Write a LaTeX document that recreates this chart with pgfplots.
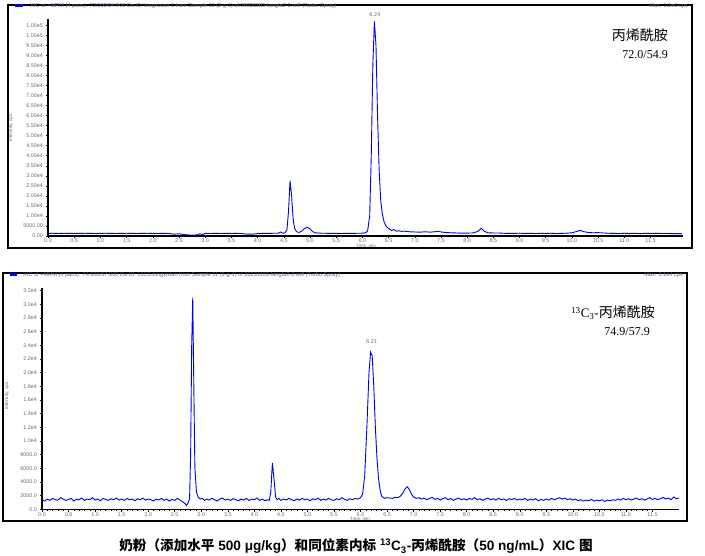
\documentclass[border=0pt]{standalone}
\usepackage{pgfplots}
\pgfplotsset{compat=1.18}
\usepackage{fontspec}
\setmainfont{Liberation Sans}
\newfontfamily\cjk{Noto Sans CJK SC}
\newfontfamily\tnr{Liberation Serif}
\definecolor{tickgray}{RGB}{105,105,125}
\definecolor{hdr}{RGB}{95,95,140}
\definecolor{trace}{RGB}{0,0,240}
\pgfplotsset{
  chrom/.style={
    scale only axis,
    axis x line*=bottom, axis y line*=left,
    axis line style={-, line width=1.1pt, black},
    xmin=0,
    scaled y ticks=false, scaled x ticks=false,
    tick align=outside,
    major tick length=2.5pt, minor tick length=1.5pt,
    every tick/.style={black, line width=0.5pt},
    tick label style={font=\fontsize{5.4}{6}\selectfont, text=tickgray},
    xtick={0,0.5,...,11.5},
    xticklabels={0.0,0.5,1.0,1.5,2.0,2.5,3.0,3.5,4.0,4.5,5.0,5.5,6.0,6.5,7.0,7.5,8.0,8.5,9.0,9.5,10.0,10.5,11.0,11.5},
    minor x tick num=4,
    xticklabel style={inner sep=0pt, yshift=-0.3pt},
    yticklabel style={xshift=1pt},
    clip=false,
  }
}
\begin{document}
\begin{tikzpicture}
\path (0pt,0pt) rectangle (705pt,556pt);
% frames
\draw[line width=1.1pt] (8pt,551pt) rectangle (692pt,308pt);
\draw[line width=1.1pt] (3pt,283pt) rectangle (687pt,35pt);
\fill[blue] (15pt,549pt) rectangle (23pt,552pt);
\fill[blue] (10pt,280pt) rectangle (17pt,283pt);
% headers
\node[anchor=west, font=\fontsize{5.6}{6}\selectfont, text=hdr, inner sep=0] at (30pt,550pt) {XIC of +MRM (4 pairs): 72.000/54.900 Da ID: bingxixian 1 from Sample 11 (3-g-1) of 20231103-fangfa2-2.wiff (Turbo Spray)};
\node[anchor=east, font=\fontsize{5.6}{6}\selectfont, text=hdr, inner sep=0] at (688pt,550pt) {Max. 1.1e5 cps};
\node[anchor=west, font=\fontsize{5.6}{6}\selectfont, text=hdr, inner sep=0] at (23pt,281pt) {XIC of +MRM (4 pairs): 74.900/57.900 Da ID: 13C3-bingxixian from Sample 11 (3-g-1) of 20231103-fangfa2-2.wiff (Turbo Spray)};
\node[anchor=east, font=\fontsize{5.6}{6}\selectfont, text=hdr, inner sep=0] at (683pt,281pt) {Max. 3.1e4 cps};

% ---------- top chart ----------
\begin{axis}[chrom, at={(48pt,320pt)}, anchor=south west,
  width=635pt, height=216.7pt, xmax=12.12, ymin=0, ymax=108000,
  ytick={0,5000,10000,15000,20000,25000,30000,35000,40000,45000,50000,55000,60000,65000,70000,75000,80000,85000,90000,95000,100000,105000},
  yticklabels={0.00,5000.00,1.00e4,1.50e4,2.00e4,2.50e4,3.00e4,3.50e4,4.00e4,4.50e4,5.00e4,5.50e4,6.00e4,6.50e4,7.00e4,7.50e4,8.00e4,8.50e4,9.00e4,9.50e4,1.00e5,1.05e5},
  minor y tick num=4,
]
\addplot[trace, line width=0.9pt] coordinates {
(0.00,1300)(0.10,1350)(0.20,1250)(0.30,1350)(0.40,1300)(0.50,1250)(0.60,1300)(0.70,1350)(0.80,1300)(0.90,1250)
(1.00,1300)(1.10,1350)(1.20,1300)(1.30,1250)(1.40,1300)(1.50,1350)(1.60,1300)(1.70,1250)(1.80,1300)(1.90,1350)
(2.00,1300)(2.10,1250)(2.20,1300)(2.30,1250)(2.40,900)(2.50,1100)(2.60,700)(2.70,500)(2.80,450)(2.85,600)(2.90,1100)(2.95,700)
(3.00,1300)(3.10,1250)(3.20,1300)(3.30,1250)(3.40,1300)(3.50,1250)(3.60,1300)(3.70,1200)(3.80,900)(3.90,900)
(4.00,1200)(4.10,1300)(4.20,1300)(4.30,1350)(4.40,1400)(4.44,2000)(4.48,1400)(4.52,1500)(4.56,3000)(4.59,12000)
(4.62,27500)(4.65,20000)(4.68,8000)(4.71,3500)(4.75,2000)(4.80,1800)(4.85,2500)(4.90,3800)(4.95,4300)(5.00,3600)
(5.05,2200)(5.10,1600)(5.20,1400)(5.30,1350)(5.40,1300)(5.50,1300)(5.60,1250)(5.70,1300)(5.80,1300)(5.90,1350)
(6.00,1400)(6.06,1600)(6.10,2500)(6.14,10000)(6.17,40000)(6.20,85000)(6.23,107000)(6.26,95000)(6.29,60000)(6.32,33000)
(6.35,18000)(6.38,11000)(6.41,7500)(6.44,5500)(6.48,4200)(6.52,3400)(6.56,2700)(6.60,3200)(6.65,2400)(6.70,2600)
(6.75,2300)(6.80,2400)(6.90,2100)(7.00,2000)(7.10,1900)(7.20,2100)(7.30,1900)(7.40,2200)(7.45,2400)(7.50,2000)
(7.60,1700)(7.70,1600)(7.80,1500)(7.90,1400)(8.00,1450)(8.10,1500)(8.20,2200)(8.27,3800)(8.33,2300)(8.40,1600)
(8.50,1500)(8.60,1500)(8.70,1350)(8.80,1300)(8.90,1300)(9.00,1400)(9.10,1250)(9.20,1350)(9.30,1200)(9.40,1350)
(9.50,1250)(9.60,1350)(9.70,1200)(9.80,1300)(9.90,1400)(10.00,1600)(10.10,2300)(10.16,2800)(10.22,2200)(10.30,1800)
(10.40,1600)(10.50,1700)(10.60,1500)(10.70,1350)(10.80,1300)(10.90,1200)(11.00,1350)(11.10,1250)(11.20,1350)(11.30,1200)
(11.40,1300)(11.50,1250)(11.60,1300)(11.70,1250)(11.80,1250)(11.90,1200)(12.00,1150)(12.10,1150)
};
\node[font=\fontsize{5.6}{6}\selectfont, text=tickgray, anchor=south] at (axis cs:6.24,107500) {6.24};
\end{axis}
\node[font=\fontsize{4.5}{5}\selectfont, text=tickgray, inner sep=0] at (366pt,310.3pt) {Time, min};
\node[font=\fontsize{4.8}{5}\selectfont, text=tickgray, rotate=90] at (11pt,428pt) {Intensity, cps};
\node[anchor=east, font=\cjk\fontsize{14}{16}\selectfont, inner sep=0] at (668pt,521pt) {丙烯酰胺};
\node[anchor=east, font=\tnr\fontsize{12}{14}\selectfont, inner sep=0] at (668pt,501pt) {72.0/54.9};

% ---------- bottom chart ----------
\begin{axis}[chrom, at={(42pt,46.7pt)}, anchor=south west,
  width=637pt, height=221.3pt, xmax=12.0, ymin=0, ymax=32400,
  ytick={0,2000,...,32000},
  yticklabels={0.0,2000.0,4000.0,6000.0,8000.0,1.0e4,1.2e4,1.4e4,1.6e4,1.8e4,2.0e4,2.2e4,2.4e4,2.6e4,2.8e4,3.0e4,3.2e4},
  minor y tick num=1,
]
\addplot[trace, line width=0.9pt] coordinates {
(0.00,1400)(0.05,1200)(0.10,1500)(0.15,1300)(0.20,1600)(0.25,1400)(0.30,1350)(0.35,1700)(0.40,1500)(0.45,1300)
(0.50,1450)(0.55,1600)(0.60,1200)(0.65,1500)(0.70,1400)(0.75,1650)(0.80,1300)(0.85,1500)(0.90,1400)(0.95,1700)
(1.00,1350)(1.05,1500)(1.10,1250)(1.15,1600)(1.20,1450)(1.25,1300)(1.30,1550)(1.35,1400)(1.40,1650)(1.45,1350)
(1.50,1500)(1.55,1300)(1.60,1600)(1.65,1400)(1.70,1500)(1.75,1250)(1.80,1550)(1.85,1400)(1.90,1650)(1.95,1350)
(2.00,1500)(2.05,1400)(2.10,1200)(2.15,1500)(2.20,1350)(2.25,1600)(2.30,1300)(2.35,1500)(2.40,1200)(2.45,1450)
(2.50,1300)(2.55,1600)(2.60,1350)(2.65,1100)(2.70,800)(2.72,550)(2.75,900)(2.78,1500)(2.80,8000)(2.82,24000)
(2.84,31000)(2.86,18000)(2.88,6000)(2.91,2500)(2.94,1800)(2.98,1500)(3.02,1600)(3.06,1300)(3.10,1500)(3.15,1350)
(3.20,1600)(3.25,1400)(3.30,1200)(3.35,1500)(3.40,1650)(3.45,1350)(3.50,1500)(3.55,1300)(3.60,1550)(3.65,1400)
(3.70,1250)(3.75,1500)(3.80,1350)(3.85,1600)(3.90,1300)(3.95,1500)(4.00,1400)(4.05,1650)(4.10,1300)(4.15,1500)
(4.20,1250)(4.25,1400)(4.28,1300)(4.31,2500)(4.34,6800)(4.37,4500)(4.40,1800)(4.43,1400)(4.46,1600)(4.50,1300)
(4.55,1500)(4.60,1350)(4.65,1600)(4.70,1400)(4.75,1250)(4.80,1500)(4.85,1350)(4.90,1600)(4.95,1400)(5.00,1500)
(5.05,1250)(5.10,1550)(5.15,1400)(5.20,1650)(5.25,1300)(5.30,1500)(5.35,1350)(5.40,1600)(5.45,1400)(5.50,1300)
(5.55,1550)(5.60,1400)(5.65,1700)(5.70,1450)(5.75,1300)(5.80,1550)(5.85,1400)(5.90,1600)(5.95,1500)(6.00,1700)
(6.04,2200)(6.08,5000)(6.12,12000)(6.16,20000)(6.19,23000)(6.22,22500)(6.25,18000)(6.28,12000)(6.31,7500)(6.34,4500)
(6.37,2800)(6.40,1900)(6.45,1600)(6.50,1700)(6.55,1650)(6.60,1600)(6.65,1750)(6.70,1700)(6.75,1900)(6.80,2400)
(6.84,3000)(6.88,3300)(6.92,2900)(6.96,2200)(7.00,1800)(7.05,1600)(7.10,1700)(7.15,1500)(7.20,1650)(7.25,1400)
(7.30,1600)(7.35,1750)(7.40,1450)(7.45,1600)(7.50,1350)(7.55,1550)(7.60,1700)(7.65,1400)(7.70,1600)(7.75,1300)
(7.80,1500)(7.85,1650)(7.90,1400)(7.95,1550)(8.00,1350)(8.05,1600)(8.10,1450)(8.15,1700)(8.20,1400)(8.25,1550)
(8.30,1300)(8.35,1500)(8.40,1650)(8.45,1400)(8.50,1550)(8.55,1350)(8.60,1600)(8.65,1400)(8.70,1500)(8.75,1300)
(8.80,1550)(8.85,1400)(8.90,1600)(8.95,1350)(9.00,1500)(9.05,1400)(9.10,1600)(9.15,1300)(9.20,1500)(9.25,1350)
(9.30,1550)(9.35,1250)(9.40,1450)(9.45,1300)(9.50,1500)(9.55,1350)(9.60,1600)(9.65,1400)(9.70,1550)(9.75,1700)
(9.80,1500)(9.85,1650)(9.90,1400)(9.95,1550)(10.00,1350)(10.05,1500)(10.10,1250)(10.15,1400)(10.20,1200)(10.25,1350)
(10.30,1250)(10.35,1450)(10.40,1200)(10.45,1350)(10.50,1250)(10.55,1400)(10.60,1150)(10.65,1350)(10.70,1250)(10.75,1400)
(10.80,1300)(10.85,1500)(10.90,1350)(10.95,1600)(11.00,1400)(11.05,1550)(11.10,1350)(11.15,1500)(11.20,1650)(11.25,1400)
(11.30,1550)(11.35,1350)(11.40,1500)(11.45,1700)(11.50,1450)(11.55,1600)(11.60,1400)(11.65,1550)(11.70,1750)(11.75,1500)
(11.80,1650)(11.85,1400)(11.90,1800)(11.95,1550)(12.00,1650)
};
\node[font=\fontsize{5.6}{6}\selectfont, text=tickgray, anchor=south] at (axis cs:6.21,23800) {6.21};
\end{axis}
\node[font=\fontsize{4.5}{5}\selectfont, text=tickgray, inner sep=0] at (360pt,37pt) {Time, min};
\node[font=\fontsize{4.8}{5}\selectfont, text=tickgray, rotate=90] at (7pt,160pt) {Intensity, cps};
\node[anchor=east, inner sep=0] at (655pt,243pt) {{\tnr\fontsize{13}{15}\selectfont\textsuperscript{13}C\textsubscript{3}-}{\cjk\fontsize{14}{16}\selectfont 丙烯酰胺}};
\node[anchor=east, font=\tnr\fontsize{12}{14}\selectfont, inner sep=0] at (650pt,224pt) {74.9/57.9};

% caption
\node[font=\bfseries\fontsize{13.6}{15}\selectfont, inner sep=0] at (356pt,9.5pt) {{\cjk 奶粉（添加水平} 500 μg/kg{\cjk ）和同位素内标} \textsuperscript{13}C\textsubscript{3}-{\cjk 丙烯酰胺（}50 ng/mL{\cjk ）}XIC {\cjk 图}};
\end{tikzpicture}
\end{document}
